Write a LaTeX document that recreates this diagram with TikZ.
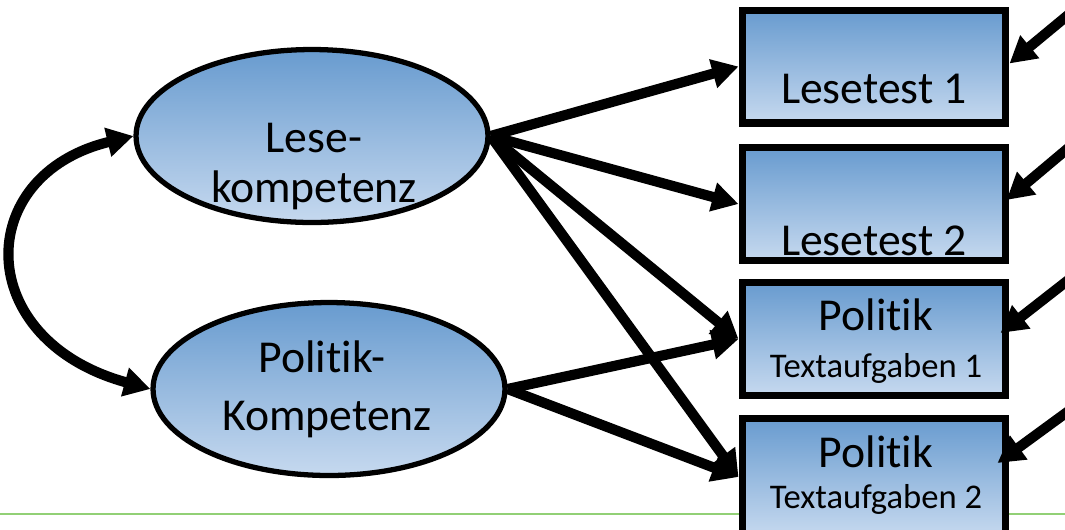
\documentclass[tikz,border=0pt]{standalone}
\usepackage{fontspec}
\setmainfont[Ligatures=NoCommon]{Carlito}
\usetikzlibrary{arrows.meta,shapes.geometric}

\definecolor{shadetop}{RGB}{104,155,207}
\definecolor{shadebot}{RGB}{198,217,239}
\definecolor{rulegreen}{RGB}{146,208,118}

\tikzset{
  latent/.style={ellipse, draw=black, line width=3pt,
    top color=shadetop, bottom color=shadebot,
    minimum width=7.04cm, minimum height=3.46cm, inner sep=0pt},
  indicator/.style={rectangle, draw=black, line width=4pt,
    top color=shadetop, bottom color=shadebot,
    minimum width=5.28cm, minimum height=2.26cm, inner sep=0pt},
  bigtext/.style={anchor=base, font=\fontsize{26}{30}\selectfont, inner sep=0pt},
  smalltext/.style={anchor=base, font=\fontsize{19.7}{23}\selectfont, inner sep=0pt},
  path/.style={line width=5.8pt, -{Triangle[length=15pt,width=16pt]}},
  covar/.style={line width=5.8pt, {Triangle[length=15pt,width=16pt]}-{Triangle[length=15pt,width=16pt]}},
}

\begin{document}
\begin{tikzpicture}[x=0.02cm, y=-0.02cm]
  \useasboundingbox (0,0) rectangle (1065,529);
  \clip (0,0) rectangle (1065,529);

  % green rule along the bottom
  \draw[rulegreen, line width=1.2pt] (0,514) -- (1065,514);

  % latent factors
  \node[latent] (lese) at (312,136) {};
  \node[latent] (poli) at (329,389) {};

  % observed indicators
  \node[indicator] (t1) at (874,66.5) {};
  \node[indicator] (t2) at (874,204) {};
  \node[indicator] (t3) at (874,339) {};
  \node[indicator, minimum height=2.36cm] (t4) at (874,477) {};

  % labels
  \node[bigtext] (leseA) at (314,152) {Lese-};
  \node[bigtext] (leseB) at (314,202) {kompetenz};
  \node[bigtext] (poliA) at (322,372) {Politik-};
  \node[bigtext] (poliB) at (327,430) {Kompetenz};
  \node[bigtext] (t1a) at (874,103) {Lesetest 1};
  \node[bigtext] (t2a) at (874,255) {Lesetest 2};
  \node[bigtext] (t3a) at (876,330) {Politik};
  \node[smalltext] (t3b) at (876,377) {Textaufgaben 1};
  \node[bigtext] (t4a) at (876,467) {Politik};
  \node[smalltext] (t4b) at (876,508) {Textaufgaben 2};

  % factor correlation
  \draw[covar] (lese.west) .. controls (-28,175) and (-28,340) .. (poli.west);

  % loadings
  \draw[path] (lese.east) -- (t1.west);
  \draw[path] (lese.east) -- (t2.west);
  \draw[path] (lese.east) -- (t3.west);
  \draw[path] (lese.east) -- (t4.west);
  \draw[path] (poli.east) -- (t3.west);
  \draw[path] (poli.east) -- (t4.west);

  % residual terms entering from the right
  \coordinate (e1) at (1085,1);
  \coordinate (e2) at (1085,134);
  \coordinate (e3) at (1085,267);
  \coordinate (e4) at (1085,399);
  \draw[path] (e1) -- ([yshift=0.06cm]t1.east);
  \draw[path] (e2) -- ([xshift=-0.06cm,yshift=0.08cm]t2.east);
  \draw[path] (e3) -- ([xshift=-0.18cm,yshift=0.12cm]t3.east);
  \draw[path] (e4) -- ([xshift=-0.24cm,yshift=0.28cm]t4.east);
\end{tikzpicture}
\end{document}
